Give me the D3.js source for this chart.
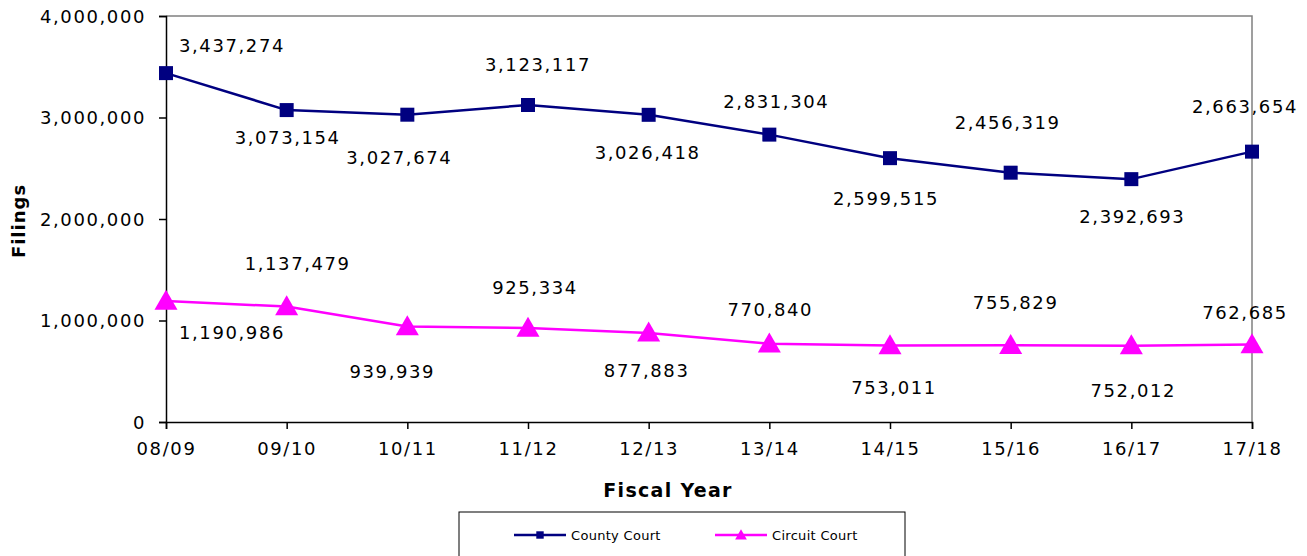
<!DOCTYPE html>
<html>
<head>
<meta charset="utf-8">
<script src="https://cdn.jsdelivr.net/npm/d3@7"></script>
<style>
  body { margin: 0; background: #fff; }
  svg text { font-family: "DejaVu Sans", Verdana, sans-serif; fill: #000; }
</style>
</head>
<body>
<div id="chart"></div>
<script>
const years = ["08/09", "09/10", "10/11", "11/12", "12/13", "13/14", "14/15", "15/16", "16/17", "17/18"];
const county = [3437274, 3073154, 3027674, 3123117, 3026418, 2831304, 2599515, 2456319, 2392693, 2663654];
const circuit = [1190986, 1137479, 939939, 925334, 877883, 770840, 753011, 755829, 752012, 762685];
const yTicks = [0, 1000000, 2000000, 3000000, 4000000];

// label nudges (dx, dy) from the point, like excel put them
const countyNudge = [[66, -28], [1, 27], [-8, 43], [10, -40], [-1, 38], [7, -33], [-4, 40], [-3, -50], [1, 37], [-7, -45]];
const circuitNudge = [[66, 31], [11, -43], [-15, 45], [7, -41], [-2, 38], [1, -34], [4, 42], [5, -43], [2, 45], [-7, -32]];

const W = 1307, H = 556;
const margin = {top: 16, right: 55, bottom: 134, left: 166};
const iw = W - margin.left - margin.right;
const ih = H - margin.top - margin.bottom;

const svg = d3.select("#chart").append("svg")
  .attr("width", W)
  .attr("height", H);
const g = svg.append("g")
  .attr("transform", "translate(" + margin.left + " " + margin.top + ")");

const x = d3.scalePoint().domain(years).range([0, iw]);
const y = d3.scaleLinear().domain([0, 4000000]).range([ih, 0]);
const fmt = d3.format(",");

// top/right frame (grey)
g.append("path")
  .attr("d", "M0,0H" + iw + "V" + ih)
  .attr("fill", "none")
  .attr("stroke", "#808080")
  .attr("stroke-width", 1.5);

// axes
const yAxis = g.append("g")
  .call(d3.axisLeft(y).tickValues(yTicks).tickFormat(fmt).tickSize(7).tickPadding(13));
const xAxis = g.append("g")
  .attr("transform", "translate(0 " + ih + ")")
  .call(d3.axisBottom(x).tickSize(7).tickPadding(10));
[yAxis, xAxis].forEach(a => {
  a.select(".domain").attr("stroke", "#000").attr("stroke-width", 1.5);
  a.selectAll(".tick line").attr("stroke", "#000").attr("stroke-width", 1.5);
  a.selectAll("text").attr("font-size", 18).style("letter-spacing", "1.6px")
    .attr("font-family", null);
});
yAxis.selectAll("text").attr("dy", "0.36em");
xAxis.selectAll("text").attr("dy", "0.9em");

// axis titles
svg.append("text")
  .attr("transform", "translate(25 221) rotate(-90)")
  .attr("text-anchor", "middle")
  .attr("font-size", 18)
  .attr("font-weight", "bold")
  .style("letter-spacing", "1px")
  .text("Filings");
svg.append("text")
  .attr("x", 668)
  .attr("y", 497)
  .attr("text-anchor", "middle")
  .attr("font-size", 19)
  .attr("font-weight", "bold")
  .style("letter-spacing", "1.3px")
  .text("Fiscal Year");

const line = d3.line()
  .x((d, i) => x(years[i]))
  .y(d => y(d));

const series = [
  {name: "County Court", vals: county, nudge: countyNudge, color: "#000080", sym: d3.symbolSquare, size: 196},
  {name: "Circuit Court", vals: circuit, nudge: circuitNudge, color: "#FF00FF", sym: d3.symbolTriangle, size: 230}
];

series.forEach(s => {
  g.append("path")
    .datum(s.vals)
    .attr("d", line)
    .attr("fill", "none")
    .attr("stroke", s.color)
    .attr("stroke-width", 2.5)
    .attr("stroke-linejoin", "round");
  g.selectAll(null).data(s.vals).enter()
    .append("path")
      .attr("d", d3.symbol().type(s.sym).size(s.size))
      .attr("transform", (d, i) => "translate(" + x(years[i]) + " " + (y(d) + (s.sym === d3.symbolTriangle ? 2 : 0)) + ")")
      .attr("fill", s.color);
  g.selectAll(null).data(s.vals).enter()
    .append("text")
      .attr("x", (d, i) => x(years[i]) + s.nudge[i][0])
      .attr("y", (d, i) => y(d) + s.nudge[i][1])
      .attr("dy", "0.36em")
      .attr("text-anchor", "middle")
      .attr("font-size", 18)
      .style("letter-spacing", "1.6px")
      .text(d => fmt(d));
});

// legend
const lg = svg.append("g").attr("transform", "translate(459 512)");
lg.append("rect")
  .attr("width", 446).attr("height", 60)
  .attr("fill", "#fff").attr("stroke", "#000").attr("stroke-width", 1);
series.forEach((s, i) => {
  const lx = 55 + i * 201;
  const item = lg.append("g").attr("transform", "translate(" + lx + " 23)");
  item.append("line")
    .attr("x1", 0).attr("x2", 52)
    .attr("stroke", s.color).attr("stroke-width", 2.5);
  item.append("path")
    .attr("d", d3.symbol().type(s.sym).size(s.sym === d3.symbolTriangle ? 60 : 55))
    .attr("transform", "translate(26 " + (s.sym === d3.symbolTriangle ? 1 : 0) + ")")
    .attr("fill", s.color);
  item.append("text")
    .attr("x", 57)
    .attr("dy", "0.36em")
    .attr("font-size", 13)
    .style("letter-spacing", "0.3px")
    .text(s.name);
});
</script>
</body>
</html>
